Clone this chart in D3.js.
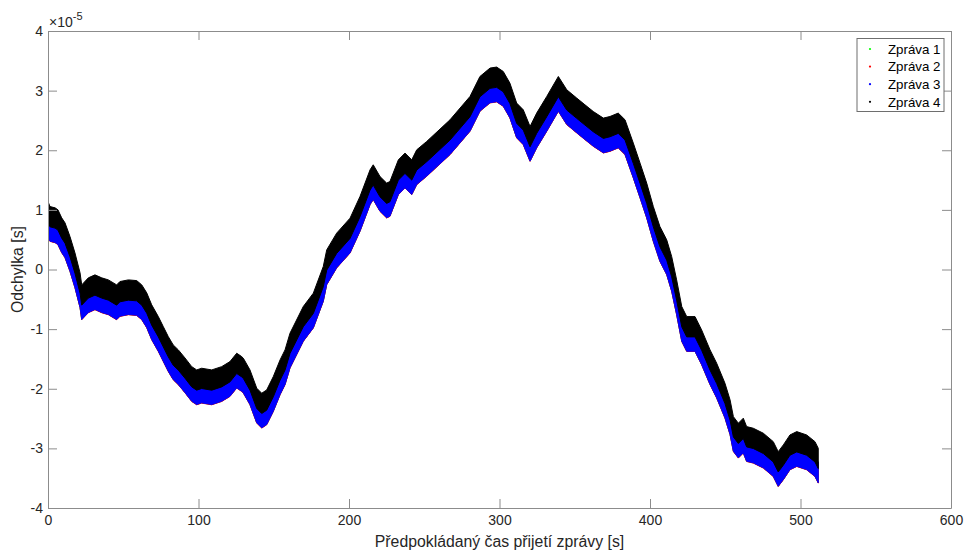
<!DOCTYPE html>
<html>
<head>
<meta charset="utf-8">
<script src="https://cdn.jsdelivr.net/npm/d3@7/dist/d3.min.js"></script>
<style>
  html, body { margin: 0; padding: 0; background: #fff; }
  svg { display: block; font-family: "Liberation Sans", Arial, Helvetica, sans-serif; }
</style>
</head>
<body>
<svg id="chart" width="965" height="552"></svg>
<script>
// Expected arrival time of each message [s]
const timeS = [
  0, 1.3, 4.7, 6.6, 9.1, 11.3, 14.6, 17.9, 21.3, 22.4, 26.8, 31.2, 35.7, 40.1, 45.6, 47.8,
  53.4, 58.9, 62.3, 65.6, 68.9, 73.3, 76.6, 79.9, 83.2, 86.6, 91.0, 95.5, 98.8, 102.1,
  108.8, 115.4, 120.9, 125.4, 128.7, 129.8, 134.2, 138.7, 142.0, 145.3, 149.7, 154.2,
  157.5, 160.8, 169.6, 176.3, 182.9, 185.2, 191.8, 200.7, 207.3, 214.0, 216.1, 220.6,
  225.0, 227.2, 232.8, 237.2, 241.7, 245.0, 251.6, 267.1, 280.4, 287.0, 293.7, 298.1,
  302.5, 306.9, 311.4, 315.8, 320.3, 324.7, 331.4, 339.1, 344.7, 351.3, 356.8, 362.3,
  369.0, 373.4, 378.9, 383.4, 388.9, 393.4, 397.8, 402.2, 406.6, 411.1, 414.4, 417.7,
  421.1, 424.4, 429.9, 434.3, 439.9, 444.3, 449.8, 453.2, 455.4, 458.7, 462.0, 464.2,
  468.6, 475.3, 481.9, 485.2, 488.6, 493.0, 497.5, 504.1, 509.6, 511.8
];

// Mean deviation of message 4 [x1e-5 s]
const deviation4 = [
  0.970, 0.886, 0.864, 0.831, 0.696, 0.612, 0.383, 0.109, -0.227, -0.428, -0.310, -0.260,
  -0.310, -0.344, -0.428, -0.372, -0.344, -0.356, -0.428, -0.562, -0.763, -0.960, -1.128,
  -1.295, -1.435, -1.518, -1.653, -1.799, -1.854, -1.826, -1.854, -1.799, -1.715, -1.574,
  -1.631, -1.658, -1.854, -2.161, -2.245, -2.190, -1.966, -1.686, -1.518, -1.238, -0.792,
  -0.567, -0.121, 0.159, 0.440, 0.691, 1.054, 1.502, 1.586, 1.389, 1.279, 1.305, 1.669,
  1.782, 1.669, 1.837, 1.977, 2.340, 2.732, 3.067, 3.208, 3.225, 3.151, 2.956, 2.621,
  2.508, 2.228, 2.453, 2.732, 3.067, 2.844, 2.705, 2.592, 2.480, 2.369, 2.396, 2.453,
  2.341, 1.950, 1.614, 1.279, 0.886, 0.550, 0.327, 0.047, -0.344, -0.792, -0.960, -0.960,
  -1.183, -1.518, -1.742, -2.077, -2.357, -2.638, -2.748, -2.664, -2.805, -2.832, -2.916,
  -3.057, -3.225, -3.112, -2.945, -2.889, -2.945, -3.057, -3.168
];

// Messages: constant delay relative to message 4 and half-width of the jitter [x1e-5 s]
const seriesNames   = ["Zpráva 1", "Zpráva 2", "Zpráva 3", "Zpráva 4"];
const seriesColors  = ["#00ff00", "#ff0000", "#0000ff", "#000000"];
const seriesOffsets = [-0.24, -0.245, -0.24, 0];
const seriesSpread  = [0.17, 0.17, 0.17, 0.17];

const xTicks = [0, 100, 200, 300, 400, 500, 600];
const yTicks = [-4, -3, -2, -1, 0, 1, 2, 3, 4];

const svg = d3.select("#chart");
const plot = { left: 48, right: 951, top: 31, bottom: 508 };

const x = d3.scaleLinear().domain([0, 600]).range([plot.left, plot.right]);
const y = d3.scaleLinear().domain([-4, 4]).range([plot.bottom, plot.top]);

const axisColor = "#8c8c8c";
const textColor = "#262626";

svg.append("clipPath").attr("id", "clip")
  .append("rect")
  .attr("x", plot.left).attr("y", plot.top)
  .attr("width", plot.right - plot.left).attr("height", plot.bottom - plot.top);

// Message bands (drawn in order, message 4 on top)
const bands = svg.append("g").attr("clip-path", "url(#clip)");
seriesNames.forEach((name, s) => {
  const area = d3.area()
    .x((d, i) => x(timeS[i]))
    .y0((d, i) => y(deviation4[i] + seriesOffsets[s] - seriesSpread[s]))
    .y1((d, i) => y(deviation4[i] + seriesOffsets[s] + seriesSpread[s]));
  bands.append("path")
    .datum(deviation4)
    .attr("d", area)
    .attr("fill", seriesColors[s])
    .attr("stroke", seriesColors[s])
    .attr("stroke-width", 1)
    .attr("stroke-linejoin", "miter");
});

// Axes with inward ticks on all four sides
const tickLen = 9;
const axB = svg.append("g").attr("transform", `translate(0,${plot.bottom})`)
  .call(d3.axisBottom(x).tickValues(xTicks).tickSizeInner(-tickLen).tickSizeOuter(0).tickPadding(7));
const axT = svg.append("g").attr("transform", `translate(0,${plot.top})`)
  .call(d3.axisTop(x).tickValues(xTicks).tickSizeInner(-tickLen).tickSizeOuter(0).tickFormat(""));
const axL = svg.append("g").attr("transform", `translate(${plot.left},0)`)
  .call(d3.axisLeft(y).tickValues(yTicks).tickSizeInner(-tickLen).tickSizeOuter(0).tickPadding(5)
    .tickFormat(d => d < 0 ? "-" + Math.abs(d) : String(d)));
const axR = svg.append("g").attr("transform", `translate(${plot.right},0)`)
  .call(d3.axisRight(y).tickValues(yTicks).tickSizeInner(-tickLen).tickSizeOuter(0).tickFormat(""));

[axB, axT, axL, axR].forEach(g => {
  g.select(".domain").attr("stroke", axisColor).attr("stroke-width", 1);
  g.selectAll(".tick line").attr("stroke", axisColor).attr("stroke-width", 1);
  g.selectAll(".tick text").attr("fill", textColor).attr("font-size", 14)
    .attr("font-family", "Liberation Sans, Arial, sans-serif");
});

// Exponent label of the y axis
const expo = svg.append("text")
  .attr("x", plot.left + 1).attr("y", 27)
  .attr("fill", textColor).attr("font-size", 14);
expo.append("tspan").text("×10");
expo.append("tspan").attr("dy", -7).attr("font-size", 11).text("-5");

// Axis titles
svg.append("text")
  .attr("x", (plot.left + plot.right) / 2).attr("y", 547)
  .attr("text-anchor", "middle").attr("fill", textColor).attr("font-size", 15.8)
  .text("Předpokládaný čas přijetí zprávy [s]");
svg.append("text")
  .attr("transform", `translate(23,${(plot.top + plot.bottom) / 2}) rotate(-90)`)
  .attr("text-anchor", "middle").attr("fill", textColor).attr("font-size", 15.8)
  .text("Odchylka [s]");

// Legend
const legend = svg.append("g");
legend.append("rect")
  .attr("x", 857).attr("y", 38.5).attr("width", 87).attr("height", 73)
  .attr("fill", "#fff").attr("stroke", "#6e6e6e").attr("stroke-width", 1);
seriesNames.forEach((name, s) => {
  const cy = 49 + s * 17.6;
  legend.append("circle").attr("cx", 870).attr("cy", cy).attr("r", 1.1)
    .attr("fill", seriesColors[s]);
  legend.append("text").attr("x", 888).attr("y", cy).attr("dy", "0.36em")
    .attr("fill", "#000").attr("font-size", 13.3).text(name);
});
</script>
</body>
</html>
